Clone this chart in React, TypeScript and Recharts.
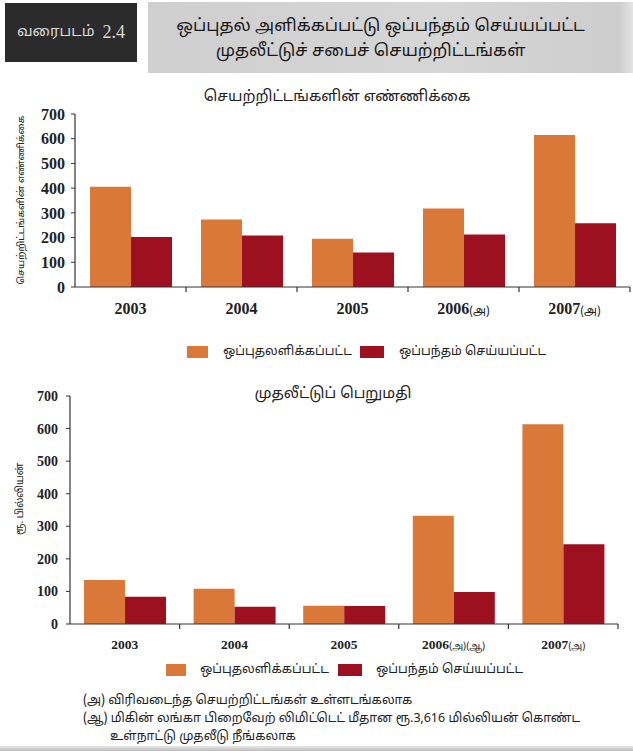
import { BarChart, Bar, XAxis, YAxis } from "recharts";

const categories = ["2003", "2004", "2005", "2006", "2007"];
const projectNotes = ["", "", "", "(அ)", "(அ)"];
const valueNotes = ["", "", "", "(அ)(ஆ)", "(அ)"];

const seriesNames = ["ஒப்புதலளிக்கப்பட்ட", "ஒப்பந்தம் செய்யப்பட்ட"];

// number of projects
const projectsApproved = [406, 273, 195, 318, 615];
const projectsSigned = [202, 208, 140, 212, 258];

// investment value, Rs. billion
const valueApproved = [135, 108, 56, 332, 613];
const valueSigned = [84, 53, 55, 98, 245];

const yTicks = [0, 100, 200, 300, 400, 500, 600, 700];

const ORANGE = "#d97839";
const RED = "#9c1020";
const INK = "#222";
const SERIF = '"Liberation Serif", "DejaVu Serif", serif';
const TAMIL = '"Noto Sans Tamil", "Lohit Tamil", "Latha", "Noto Sans", sans-serif';

function buildRows(approved: number[], signed: number[], notes: string[]) {
  return categories.map((year, i) => ({
    year,
    note: notes[i],
    approved: approved[i],
    signed: signed[i],
  }));
}

interface ChartProps {
  top: number;
  height: number;
  plot: { left: number; top: number; right: number; bottom: number };
  approved: number[];
  signed: number[];
  notes: string[];
  yFont: number;
  xFont: number;
  yTickMargin: number;
  yLabel: string;
  yLabelX: number;
  yLabelY: number;
  yLabelSize: number;
  legendTop: number;
  legendLeft: number[];
  legendTextGap: number;
  legendBox: number[];
}

function InvestChart(p: ChartProps) {
  const W = 633;
  const yAxisWidth = 50;
  const xAxisHeight = 34;
  const data = buildRows(p.approved, p.signed, p.notes);
  const halfBand = (p.plot.right - p.plot.left) / categories.length / 2;

  const XTick = (props: any) => {
    const { x, y, index } = props;
    const row = data[index];
    return (
      <g>
        <line
          x1={x + halfBand}
          x2={x + halfBand}
          y1={y}
          y2={y + 5}
          stroke="#333"
          strokeWidth={1.2}
        />
        <text
          x={x}
          y={y + p.xFont + 11}
          textAnchor="middle"
          fill={INK}
          fontFamily={SERIF}
          fontWeight="bold"
          fontSize={p.xFont}
        >
          {row.year}
          {row.note ? (
            <tspan fontFamily={TAMIL} fontWeight="normal" fontSize={p.xFont * 0.72}>
              {row.note}
            </tspan>
          ) : null}
        </text>
      </g>
    );
  };

  return (
    <div style={{ position: "absolute", left: 0, top: p.top, width: W, height: p.height }}>
      <BarChart
        width={W}
        height={p.height}
        data={data}
        barGap={0}
        barSize={41}
        margin={{
          top: p.plot.top,
          right: W - p.plot.right,
          left: p.plot.left - yAxisWidth,
          bottom: p.height - p.plot.bottom - xAxisHeight,
        }}
      >
        <XAxis
          dataKey="year"
          height={xAxisHeight}
          axisLine={{ stroke: "#333", strokeWidth: 1.2 }}
          tickLine={false}
          tickSize={0}
          tickMargin={0}
          interval={0}
          tick={<XTick />}
        />
        <YAxis
          width={yAxisWidth}
          domain={[0, 700]}
          ticks={yTicks}
          interval={0}
          axisLine={{ stroke: "#333", strokeWidth: 1.2 }}
          tickLine={{ stroke: "#333" }}
          tickSize={4}
          tickMargin={p.yTickMargin}
          tick={{
            fill: INK,
            fontFamily: SERIF,
            fontWeight: "bold",
            fontSize: p.yFont,
          }}
          label={{
            content: () => (
              <text
                x={p.yLabelX}
                y={p.yLabelY}
                transform={`rotate(-90 ${p.yLabelX} ${p.yLabelY})`}
                textAnchor="middle"
                dominantBaseline="central"
                fontFamily={TAMIL}
                fontSize={p.yLabelSize}
                fill={INK}
              >
                {p.yLabel}
              </text>
            ),
          }}
        />
        <Bar dataKey="approved" name={seriesNames[0]} fill={ORANGE} isAnimationActive={false} />
        <Bar dataKey="signed" name={seriesNames[1]} fill={RED} isAnimationActive={false} />
      </BarChart>
      {[ORANGE, RED].map((c, i) => (
        <div
          key={i}
          style={{
            position: "absolute",
            left: p.legendLeft[i],
            top: p.legendTop,
            display: "flex",
            alignItems: "center",
          }}
        >
          <div style={{ width: p.legendBox[i], height: 12, background: c }} />
          <span
            style={{
              marginLeft: p.legendTextGap,
              fontFamily: TAMIL,
              fontSize: 12.5,
              color: INK,
              whiteSpace: "nowrap",
            }}
          >
            {seriesNames[i]}
          </span>
        </div>
      ))}
    </div>
  );
}

export default function App() {
  return (
    <div
      style={{
        position: "absolute",
        left: 0,
        top: 0,
        width: 633,
        height: 751,
        background: "#fff",
        overflow: "hidden",
        fontFamily: TAMIL,
      }}
    >
      {/* header */}
      <div
        style={{
          position: "absolute",
          left: 5,
          top: 3,
          width: 132,
          height: 59,
          background: "#2b2b2b",
          color: "#d8d8d8",
          fontSize: 15,
          display: "flex",
          alignItems: "center",
          justifyContent: "center",
        }}
      >
        வரைபடம் <span style={{ fontFamily: SERIF, fontSize: 18, marginLeft: 8 }}>2.4</span>
      </div>
      <div
        style={{
          position: "absolute",
          left: 148,
          top: 2,
          width: 485,
          height: 71,
          background: "linear-gradient(90deg, #cfcfcf, #d6d6d6 60%, #cdcdcd 97%, #e4e4e4)",
          color: "#1a1a1a",
          fontSize: 17,
          lineHeight: "25px",
          textAlign: "center",
          paddingTop: 12,
          boxSizing: "border-box",
        }}
      >
        <div style={{ marginLeft: -20 }}>ஒப்புதல் அளிக்கப்பட்டு ஒப்பந்தம் செய்யப்பட்ட</div>
        <div style={{ marginLeft: -40 }}>முதலீட்டுச் சபைச் செயற்றிட்டங்கள்</div>
      </div>

      {/* chart titles */}
      <div
        style={{
          position: "absolute",
          left: 0,
          width: 674,
          top: 88,
          textAlign: "center",
          fontSize: 15,
          color: INK,
        }}
      >
        செயற்றிட்டங்களின் எண்ணிக்கை
      </div>
      <div
        style={{
          position: "absolute",
          left: 0,
          width: 666,
          top: 385,
          textAlign: "center",
          fontSize: 15,
          color: INK,
        }}
      >
        முதலீட்டுப் பெறுமதி
      </div>

      <InvestChart
        top={0}
        height={370}
        plot={{ left: 75, top: 114, right: 630, bottom: 287 }}
        approved={projectsApproved}
        signed={projectsSigned}
        notes={projectNotes}
        yFont={16}
        xFont={16}
        yTickMargin={6}
        yLabel="செயற்றிட்டங்களின் எண்ணிக்கை"
        yLabelX={22}
        yLabelY={200}
        yLabelSize={9.5}
        legendTop={344}
        legendLeft={[187, 360]}
        legendTextGap={15}
        legendBox={[21, 24]}
      />

      <InvestChart
        top={380}
        height={305}
        plot={{ left: 70, top: 16, right: 618, bottom: 244 }}
        approved={valueApproved}
        signed={valueSigned}
        notes={valueNotes}
        yFont={14}
        xFont={13.5}
        yTickMargin={8}
        yLabel="ரூ. பில்லியன்"
        yLabelX={20}
        yLabelY={119}
        yLabelSize={10}
        legendTop={282}
        legendLeft={[166, 338]}
        legendTextGap={14}
        legendBox={[20, 24]}
      />

      {/* footnotes */}
      <div
        style={{
          position: "absolute",
          left: 83,
          top: 692,
          fontSize: 12.5,
          lineHeight: "18px",
          color: INK,
          whiteSpace: "nowrap",
        }}
      >
        <div>(அ) விரிவடைந்த செயற்றிட்டங்கள் உள்ளடங்கலாக</div>
        <div>(ஆ) மிகின் லங்கா பிறைவேற் லிமிட்டெட் மீதான ரூ.3,616 மில்லியன் கொண்ட</div>
        <div style={{ marginLeft: 27 }}>உள்நாட்டு முதலீடு நீங்கலாக</div>
      </div>
      <div
        style={{
          position: "absolute",
          left: 0,
          top: 746,
          width: 633,
          height: 5,
          background: "linear-gradient(180deg, #e8e8e8, #bdbdbd)",
        }}
      />
    </div>
  );
}
